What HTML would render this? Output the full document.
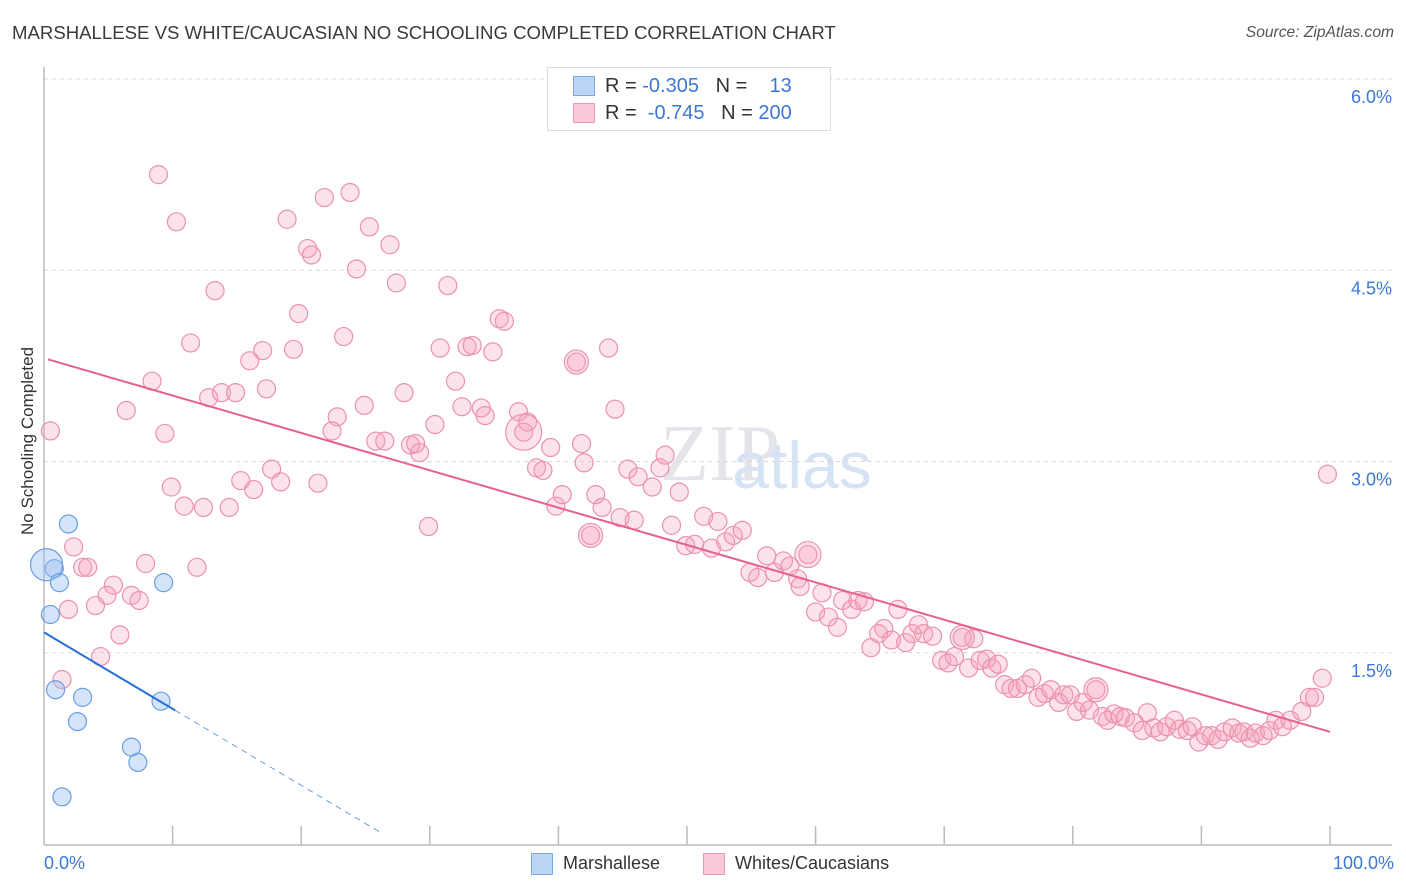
<!DOCTYPE html>
<html><head><meta charset="utf-8"><style>
body{margin:0;background:#fff;font-family:"Liberation Sans",sans-serif;}
#wrap{position:relative;width:1406px;height:892px;overflow:hidden;}
.t{position:absolute;white-space:nowrap;}
</style></head><body>
<div id="wrap">
<div class="t" style="left:12px;top:22px;font-size:18.6px;color:#3a3a3a;">MARSHALLESE VS WHITE/CAUCASIAN NO SCHOOLING COMPLETED CORRELATION CHART</div>
<div class="t" style="right:12px;top:24px;font-size:15.6px;color:#555;font-style:italic;">Source: ZipAtlas.com</div>
<svg id="svg" width="1406" height="892" style="position:absolute;left:0;top:0">
<text x="720" y="480" text-anchor="middle" font-size="80" font-family="Liberation Serif" fill="#e4e4ea">ZIP</text>
<text x="802" y="488" text-anchor="middle" font-size="66" fill="#d6e3f4">atlas</text>
</svg>
<div style="position:absolute;left:547px;top:67px;width:282px;height:62px;border:1px solid #ddd;background:#fff;">
<div style="position:absolute;left:25px;top:8px;width:20px;height:18px;background:#bcd5f5;border:1px solid #7aa6e3;"></div>
<div style="position:absolute;left:25px;top:35px;width:20px;height:18px;background:#f9c9d7;border:1px solid #ec9ab3;"></div>
<div class="t" style="left:57px;top:7px;font-size:20px;color:#333;">R = <span style="color:#3a78d8">-0.305</span>&nbsp;&nbsp;&nbsp;N = &nbsp;&nbsp;&nbsp;<span style="color:#3a78d8">13</span></div>
<div class="t" style="left:57px;top:34px;font-size:20px;color:#333;">R = &nbsp;<span style="color:#3a78d8">-0.745</span>&nbsp;&nbsp;&nbsp;N = <span style="color:#3a78d8">200</span></div>
</div>
<div class="t" style="left:-52px;top:445px;font-size:17px;color:#333;transform:rotate(-90deg);transform-origin:center;width:160px;text-align:center;">No Schooling Completed</div>
<div class="t" style="left:44px;top:853px;font-size:18px;color:#3a78d8;">0.0%</div>
<div class="t" style="right:12px;top:853px;font-size:18px;color:#3a78d8;">100.0%</div>
<div style="position:absolute;left:531px;top:853px;width:20px;height:20px;background:#bcd5f5;border:1px solid #7aa6e3;"></div>
<div class="t" style="left:563px;top:853px;font-size:18px;color:#333;">Marshallese</div>
<div style="position:absolute;left:703px;top:853px;width:20px;height:20px;background:#f9c9d7;border:1px solid #ec9ab3;"></div>
<div class="t" style="left:735px;top:853px;font-size:18px;color:#333;">Whites/Caucasians</div>
</div>
<script>
const yTicks=[1.5,3.0,4.5,6.0];
const xTicks=[10,20,30,40,50,60,70,80,90,100];
const pinkX=[8.9,10.3,0.5,6.4,8.4,9.4,2.3,3.0,3.4,1.9,4.0,5.4,4.9,6.8,7.4,5.9,4.4,1.4,7.9,11.9,9.9,10.9,12.4,14.4,15.3,16.3,17.7,18.4,21.3,17.3,12.8,13.8,14.9,16.0,17.0,11.4,13.3,18.9,20.5,20.8,21.8,23.8,25.3,26.9,24.3,27.4,31.4,19.8,19.4,23.3,22.8,22.4,24.9,25.8,26.5,28.5,29.2,28.9,28.0,30.4,30.8,32.9,33.3,34.9,35.4,35.8,32.0,32.5,34.0,34.3,29.9,36.9,37.6,37.3,38.3,38.8,39.4,39.8,40.3,41.4,43.9,44.4,42.0,41.8,42.5,42.9,43.4,44.8,45.4,45.9,46.2,47.3,47.9,48.3,49.4,48.8,49.9,50.6,51.3,51.9,52.4,53.0,53.6,54.3,54.9,55.5,56.2,56.8,57.5,58.0,58.6,59.4,58.8,60.0,60.5,61.0,61.7,62.1,62.8,63.3,63.8,64.3,64.9,65.3,65.9,66.4,67.0,67.5,68.0,68.4,69.1,69.8,70.3,70.8,71.4,71.9,72.3,72.8,73.3,73.7,74.2,74.7,75.2,75.7,76.3,76.8,77.3,77.8,78.3,78.9,79.3,79.8,80.3,80.8,81.3,81.8,82.3,82.7,83.2,83.7,84.1,84.8,85.4,85.8,86.3,86.8,87.3,87.9,88.3,88.9,89.3,89.8,90.3,90.8,91.3,91.8,92.4,92.9,93.3,93.8,94.2,94.8,95.3,95.8,96.3,96.9,97.8,98.4,98.8,99.4,99.8];
const pinkY=[5.25,4.88,3.24,3.40,3.63,3.22,2.33,2.17,2.17,1.84,1.87,2.03,1.95,1.95,1.91,1.64,1.47,1.29,2.20,2.17,2.80,2.65,2.64,2.64,2.85,2.78,2.94,2.84,2.83,3.57,3.50,3.54,3.54,3.79,3.87,3.93,4.34,4.90,4.67,4.62,5.07,5.11,4.84,4.70,4.51,4.40,4.38,4.16,3.88,3.98,3.35,3.24,3.44,3.16,3.16,3.13,3.07,3.14,3.54,3.29,3.89,3.90,3.91,3.86,4.12,4.10,3.63,3.43,3.42,3.36,2.49,3.39,3.31,3.23,2.95,2.93,3.11,2.65,2.74,3.78,3.89,3.41,2.99,3.14,2.42,2.74,2.64,2.56,2.94,2.54,2.88,2.80,2.95,3.05,2.76,2.50,2.34,2.35,2.57,2.32,2.53,2.37,2.42,2.46,2.13,2.09,2.26,2.13,2.22,2.18,2.08,2.27,2.02,1.82,1.97,1.78,1.70,1.91,1.84,1.91,1.90,1.54,1.65,1.69,1.60,1.84,1.58,1.65,1.72,1.65,1.63,1.44,1.42,1.47,1.62,1.38,1.61,1.44,1.45,1.38,1.41,1.25,1.22,1.22,1.25,1.30,1.15,1.18,1.21,1.11,1.17,1.17,1.04,1.11,1.05,1.21,1.00,0.97,1.02,1.00,0.99,0.95,0.89,1.03,0.91,0.88,0.92,0.97,0.90,0.89,0.92,0.80,0.85,0.85,0.82,0.88,0.91,0.87,0.88,0.83,0.87,0.85,0.89,0.97,0.92,0.97,1.04,1.15,1.15,1.30,2.90];
const pinkBig=[[37.3,3.23,18],[41.4,3.78,12],[42.5,2.42,12],[59.4,2.27,13],[81.8,1.21,12],[71.4,1.62,12]];
const blueX=[1.9,0.8,0.2,1.2,9.3,0.5,0.9,3.0,2.6,9.1,6.8,7.3,1.4];
const blueY=[2.51,2.16,2.19,2.05,2.05,1.80,1.21,1.15,0.96,1.12,0.76,0.64,0.37];
const blueR=[9,9,16,9,9,9,9,9,9,9,9,9,9];
const pinkTrend=[3.81,-0.0293];
const blueTrend=[1.66,-0.060];
const X0=44,X1=1330,Y0=844,YS=127.5;
const sx=v=>X0+(X1-X0)*v/100, sy=v=>Y0-v*YS;
const svg=document.getElementById('svg'),NS='http://www.w3.org/2000/svg';
function mk(t,a){const e=document.createElementNS(NS,t);for(const k in a)e.setAttribute(k,a[k]);svg.appendChild(e);return e;}
yTicks.forEach(v=>{
 const g=mk('line',{x1:44,x2:1392,y1:sy(v),y2:sy(v),stroke:'#d8d8d8','stroke-dasharray':'4,4'});
 
 
 const t=mk('text',{x:1392,y:sy(v)+24,'text-anchor':'end','font-size':18,fill:'#3a78d8'});
 t.textContent=v.toFixed(1)+'%';
 
 
});
const ax=mk('line',{x1:44,x2:44,y1:67,y2:845,stroke:'#bbb','stroke-width':1.5});


const axx=mk('line',{x1:44,x2:1392,y1:845,y2:845,stroke:'#bbb','stroke-width':1.5});


xTicks.forEach(v=>{
 const l=mk('line',{x1:sx(v),x2:sx(v),y1:826,y2:845,stroke:'#bbb','stroke-width':1.5});
 
 
});
pinkX.forEach((x,i)=>{
 const c=mk('circle',{cx:sx(x),cy:sy(pinkY[i]),r:9,fill:'rgba(244,160,185,0.3)',stroke:'#eb92ad','stroke-width':1.2});
 
 
});
pinkBig.forEach(p=>{
 const c=mk('circle',{cx:sx(p[0]),cy:sy(p[1]),r:p[2],fill:'rgba(244,160,185,0.3)',stroke:'#eb92ad','stroke-width':1.2});
 
 
});
blueX.forEach((x,i)=>{
 const c=mk('circle',{cx:sx(x),cy:sy(blueY[i]),r:blueR[i],fill:'rgba(150,190,240,0.4)',stroke:'#6a9de3','stroke-width':1.2});
 
 
});
const pl=mk('line',{x1:sx(0.3),y1:sy(pinkTrend[0]+pinkTrend[1]*0.3),x2:sx(100),y2:sy(pinkTrend[0]+pinkTrend[1]*100),stroke:'#e8608e','stroke-width':2});


const bl=mk('line',{x1:sx(0),y1:sy(blueTrend[0]),x2:sx(10.2),y2:sy(blueTrend[0]+blueTrend[1]*10.2),stroke:'#2a6fd6','stroke-width':2});


const bd=mk('line',{x1:sx(10.2),y1:sy(blueTrend[0]+blueTrend[1]*10.2),x2:sx(26.3),y2:sy(blueTrend[0]+blueTrend[1]*26.3),stroke:'#6a9de3','stroke-width':1,'stroke-dasharray':'6,5'});


</script>
</body></html>
